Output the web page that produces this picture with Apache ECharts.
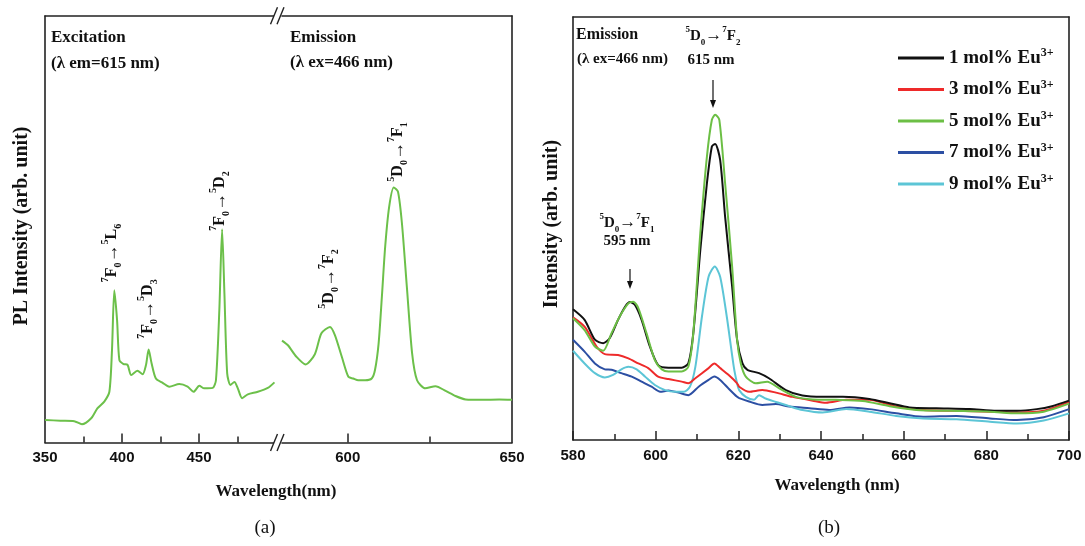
<!DOCTYPE html>
<html><head><meta charset="utf-8">
<script src="https://cdn.jsdelivr.net/npm/echarts@6/dist/echarts.min.js"></script>
<style>html,body{margin:0;padding:0;background:#fff}#c{width:1085px;height:546px}</style>
</head><body><div id="c"></div>
<script>
// ---------- Panel (a): excitation (left segment) ----------
const excWl  = [350,360,369,374,380,384,388.5,391.8,393.5,395,396.8,398.3,401,403.6,406,410,413.4,415.6,417.3,419.2,422,426.4,430.7,437.2,442.6,446.5,450.2,453.4,458.9,461,463.2,465,466.5,468.3,470.4,473,475.2,478,481.7,488.2,494.7,499];
const excInt = [5.3,5.1,5.0,4.3,5.7,8.0,9.6,11.9,21.7,35.7,28.7,19.3,18.4,18.2,15.8,16.8,16.0,18.2,21.8,18.6,15.0,14.0,13.1,13.7,13.1,11.9,13.3,12.7,12.8,14.6,31.0,50.0,35.0,16.2,13.5,14.2,12.7,10.4,11.3,11.9,12.8,14.1];
// ---------- Panel (a): emission (right segment) ----------
const emaWl  = [580,581.8,584.4,587.2,590,592,594.6,596.1,598.2,600.2,601.7,603.2,605.3,607.3,608.3,609.4,610.4,611.4,612.6,614,615.3,616.5,618,619.6,621.1,623.6,626.7,629.8,632.8,635.9,641,646.1,650];
const emaInt = [23.9,22.8,20.1,18.3,20.7,25.6,27.1,25.2,20.1,15.4,15.0,14.6,14.6,15.0,17.0,23.2,34.2,45.9,55.2,59.8,58.8,51.4,36.5,20.9,14.6,12.7,13.2,12.1,10.9,10.1,10.0,10.1,10.0];
// ---------- Panel (b) ----------
const legendNames = ['1 mol% Eu','3 mol% Eu','5 mol% Eu','7 mol% Eu','9 mol% Eu'];
const b1Wl  = [580,582.8,585.3,587.3,588.9,590.9,592.6,593.8,595,596.6,598.6,600.6,603.1,606.3,607.9,609.1,610.8,612.4,613.6,614.4,615.6,616.8,618.5,619.7,621,622.2,625,627.4,631.5,635.5,640.4,645.3,651.7,656.6,661.4,667.9,676,682.5,687.4,692.2,695.9,700];
const b1Int = [30.9,28.4,23.7,22.9,24.1,28.4,31.5,32.6,31.9,28.4,22.1,17.7,17.1,17.1,18.1,25.2,44.9,60.7,69.4,70.0,66.2,52.8,36.3,23.7,18.1,16.6,15.8,14.6,11.8,10.5,10.2,10.2,9.7,8.7,7.7,7.5,7.3,6.9,6.9,7.3,8.0,9.3];
const b3Wl  = [580,582.8,585.7,587.7,590.9,593.4,595.8,598.2,600.6,603.1,606.3,607.9,609.6,612.8,614.2,615.6,617.6,619.7,620.2,622.6,625.8,629.1,633.1,638,641.2,646.1,651.7,658.2,664.7,672.8,680.9,687.4,693.9,700];
const b3Int = [29.0,26.8,22.1,20.3,20.1,19.3,18.1,17.0,15.0,14.4,13.8,13.4,14.6,17.0,18.1,17.0,15.4,13.4,12.6,11.4,11.8,11.2,10.2,9.3,8.8,9.5,9.5,7.9,7.1,6.9,6.7,6.5,6.9,9.0];
const b5Wl  = [580,582.8,585.3,587.3,589.3,591.3,593.4,594.6,595.8,597.8,599.8,601.5,603.1,606.3,607.9,609.1,610.8,612.4,613.6,614.4,615.4,616.8,618.5,619.7,620.6,621.8,624.2,627,629.9,633.9,638,643.6,650.1,656.6,663.1,671.2,680.9,687.4,693.9,700];
const b5Int = [28.8,26.0,22.1,21.1,25.2,29.2,32.3,32.7,31.2,25.2,18.9,16.7,16.2,16.2,17.3,25.2,48.9,67.0,75.7,76.9,75.7,60.7,41.0,23.7,18.1,15.0,13.4,13.8,12.2,10.2,9.6,9.5,9.2,8.0,7.1,6.9,6.7,6.3,6.7,8.6];
const b7Wl  = [580,582.8,585.3,587.7,589.3,591.7,594.2,596.6,599,601.1,603.1,605.5,607.9,610.4,612.8,614.2,615.6,617.6,619.7,620.2,622.6,625.8,629.1,632.3,637.2,642,646.9,651.7,658.2,664.7,672.8,680.9,687.4,693.9,700];
const b7Int = [23.7,20.9,18.1,16.7,16.6,15.8,15.0,13.8,12.6,11.4,11.7,11.2,10.6,12.6,14.2,15.0,14.2,12.2,10.2,9.9,9.1,8.3,8.5,7.9,7.5,7.1,7.7,7.3,6.3,5.5,5.7,5.1,4.7,5.4,7.3];
const b9Wl  = [580,582.8,585.3,587.7,589.7,591.7,593.4,595.4,597.4,599.8,602.3,604.7,606.8,608.3,609.6,611.2,612.8,614.3,615.6,617.2,618.9,619.7,620.2,621.8,623.8,625,626.6,629.1,632.3,635.5,640.4,646.1,651.7,658.2,664.7,672.8,680.9,687.4,693.9,700];
const b9Int = [21.1,18.1,15.8,14.8,15.4,16.7,17.3,16.7,15.0,13.0,11.8,11.4,11.4,12.6,17.3,29.2,38.6,41.0,38.6,29.2,17.3,13.4,11.8,10.2,9.5,10.6,9.8,9.0,8.0,7.1,6.5,7.3,6.7,5.7,5.1,4.9,4.3,3.9,4.6,6.3];
// tick labels
const ticksALeft = [350,400,450];
const ticksARight = [600,650];

const chart = echarts.init(document.getElementById('c'), null, {renderer:'canvas'});
const SERIF = '"Liberation Serif","Times New Roman",serif';
const SANS = '"Liberation Sans",Arial,sans-serif';
const AX = '#222';
const pairs = (x,y) => x.map((v,i)=>[v,y[i]]);
const frame = {show:true, onZero:false, lineStyle:{color:AX, width:1.6}};
const tickLbl = {fontFamily:SANS, fontWeight:'bold', fontSize:15, color:'#111', margin:8};

function xAx(grid, min, max, extra){
  return Object.assign({type:'value', gridIndex:grid, min:min, max:max, position:'bottom',
    axisLine:{show:false,onZero:false}, axisTick:{show:false}, axisLabel:{show:false}, splitLine:{show:false}}, extra);
}
function yAx(grid, pos){
  return {type:'value', gridIndex:grid, min:0, max:100, position:pos, axisLine:frame,
    axisTick:{show:false}, axisLabel:{show:false}, splitLine:{show:false}};
}

const xAxes = [
  xAx(0,350,500,{axisLine:frame, axisTick:{show:true,inside:true,length:9,customValues:[400,450],lineStyle:{color:AX,width:1.5}},
     axisLabel:Object.assign({show:true, customValues:ticksALeft}, tickLbl)}),
  xAx(0,350,500,{axisTick:{show:true,inside:true,length:6,customValues:[375,425,475],lineStyle:{color:AX,width:1.5}}}),
  xAx(0,350,500,{position:'top', axisLine:frame}),
  xAx(1,580,650,{axisLine:frame, axisTick:{show:true,inside:true,length:9,customValues:[600],lineStyle:{color:AX,width:1.5}},
     axisLabel:Object.assign({show:true, customValues:ticksARight}, tickLbl)}),
  xAx(1,580,650,{axisTick:{show:true,inside:true,length:6,customValues:[625],lineStyle:{color:AX,width:1.5}}}),
  xAx(1,580,650,{position:'top', axisLine:frame}),
  xAx(2,580,700,{interval:20, axisLine:frame, axisTick:{show:true,inside:true,length:9,lineStyle:{color:AX,width:1.5}},
     minorTick:{show:true,splitNumber:2,length:6,lineStyle:{color:AX,width:1.5}},
     axisLabel:Object.assign({show:true}, tickLbl)}),
  xAx(2,580,700,{position:'top', axisLine:frame})
];
const yAxes = [yAx(0,'left'), yAx(1,'right'), yAx(2,'left'), yAx(2,'right')];

function ln(name, xi, yi, data, color, w){
  return {type:'line', name:name, xAxisIndex:xi, yAxisIndex:yi, data:data, showSymbol:false, symbol:'none',
    smooth:0.25, lineStyle:{color:color, width:w}, itemStyle:{color:color}, emphasis:{disabled:true}, silent:true};
}
const GREEN_A = '#6cc04a';
const series = [
  ln('exc', 0, 0, pairs(excWl, excInt), GREEN_A, 2),
  ln('ema', 3, 1, pairs(emaWl, emaInt), GREEN_A, 2),
  ln(legendNames[3], 6, 2, pairs(b7Wl, b7Int), '#2c4fa3', 2),
  ln(legendNames[4], 6, 2, pairs(b9Wl, b9Int), '#5cc5d6', 2),
  ln(legendNames[1], 6, 2, pairs(b3Wl, b3Int), '#ee2a2a', 2),
  ln(legendNames[0], 6, 2, pairs(b1Wl, b1Int), '#111111', 2),
  ln(legendNames[2], 6, 2, pairs(b5Wl, b5Int), '#6cbf45', 2)
];

// ---------- annotation helpers ----------
function richLbl(fs){
  return {
    b:{fontFamily:SERIF, fontWeight:'bold', fontSize:fs, fill:'#111', lineHeight:Math.round(fs*1.45)},
    ar:{fontFamily:SERIF, fontWeight:'bold', fontSize:Math.round(fs*1.15), fill:'#111'},
    sup:{fontFamily:SERIF, fontWeight:'bold', fontSize:Math.round(fs*0.6), fill:'#111', verticalAlign:'top'},
    sub:{fontFamily:SERIF, fontWeight:'bold', fontSize:Math.round(fs*0.6), fill:'#111', verticalAlign:'bottom'}
  };
}
function trans(a,A,b,c,C,d){ return '{sup|'+a+'}{b|'+A+'}{sub|'+b+'}{ar|→}{sup|'+c+'}{b|'+C+'}{sub|'+d+'}'; }
function rtext(x,y,str,fs,rot){
  return {type:'text', x:x, y:y, rotation:rot||0, z:100,
    style:{text:str, rich:richLbl(fs), align:'center', verticalAlign:'middle'}};
}
function ptext(x,y,str,font,align,rot){
  return {type:'text', x:x, y:y, rotation:rot||0, z:100,
    style:{text:str, font:font, fill:'#111', align:align||'left', verticalAlign:'middle'}};
}
function brk(cy){
  const h=8.5;
  return [
    {type:'polygon', z:100, shape:{points:[[270.5,cy+h],[277.5,cy-h],[284,cy-h],[277,cy+h]]}, style:{fill:'#fff'}},
    {type:'line', z:101, shape:{x1:270.5,y1:cy+h,x2:277.5,y2:cy-h}, style:{stroke:AX,lineWidth:1.4}},
    {type:'line', z:101, shape:{x1:277,y1:cy+h,x2:284,y2:cy-h}, style:{stroke:AX,lineWidth:1.4}}
  ];
}
function arrow(x,y1,y2){
  return [
    {type:'line', z:100, shape:{x1:x,y1:y1,x2:x,y2:y2-5}, style:{stroke:'#111',lineWidth:1.2}},
    {type:'polygon', z:100, shape:{points:[[x-3,y2-8],[x+3,y2-8],[x,y2]]}, style:{fill:'#111'}}
  ];
}
const B17 = 'bold 17px '+SERIF, B20='bold 20px '+SERIF, B16='bold 16px '+SERIF, B15='bold 15px '+SERIF;
const R = Math.PI/2;
const gfx = [].concat(
  brk(442.5), brk(15.7),
  [
    ptext(22,226,'PL Intensity (arb. unit)',B20,'center',R),
    ptext(552,224,'Intensity (arb. unit)',B20,'center',R),
    ptext(276,492,'Wavelength(nm)',B17,'center'),
    ptext(837,486,'Wavelength (nm)',B17,'center'),
    ptext(265,528,'(a)','19px '+SERIF,'center'),
    ptext(829,528,'(b)','19px '+SERIF,'center'),
    ptext(51,38,'Excitation',B17),
    ptext(51,64,'(λ em=615 nm)',B17),
    ptext(290,38,'Emission',B17),
    ptext(290,63,'(λ ex=466 nm)',B17),
    ptext(576,35,'Emission',B16),
    ptext(577,59,'(λ ex=466 nm)',B15),
    rtext(112,253,trans('7','F','0','5','L','6'),16,R),
    rtext(148,309,trans('7','F','0','5','D','3'),16,R),
    rtext(220,201,trans('7','F','0','5','D','2'),16,R),
    rtext(329,279,trans('5','D','0','7','F','2'),16,R),
    rtext(398,152,trans('5','D','0','7','F','1'),16,R),
    rtext(713,36,trans('5','D','0','7','F','2'),15,0),
    ptext(711,60,'615 nm',B15,'center'),
    rtext(627,223,trans('5','D','0','7','F','1'),15,0),
    ptext(627,241,'595 nm',B15,'center')
  ],
  arrow(713,80,108), arrow(630,269,289)
);

chart.setOption({
  animation:false,
  backgroundColor:'#fff',
  grid:[
    {left:45, top:16, width:231, height:426.5},
    {left:282, top:16, width:230, height:426.5},
    {left:573, top:17, width:496, height:423}
  ],
  xAxis:xAxes,
  yAxis:yAxes,
  legend:{orient:'vertical', left:893, top:42, itemWidth:46, itemHeight:3, itemGap:11, icon:'rect',
    selectedMode:false, data:legendNames,
    formatter:n=>'{t|'+n+'}{s|3+}',
    textStyle:{rich:{
      t:{fontFamily:SERIF, fontWeight:'bold', fontSize:19, lineHeight:22, color:'#111'},
      s:{fontFamily:SERIF, fontWeight:'bold', fontSize:12, color:'#111', verticalAlign:'top'}
    }}},
  series:series,
  graphic:{elements:gfx}
});
</script></body></html>
